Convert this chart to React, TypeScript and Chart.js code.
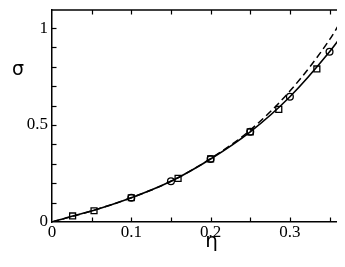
import React, { useEffect, useRef } from "react";
import { Chart, registerables } from "chart.js";

Chart.register(...registerables);

const solidEta = [0, 0.025, 0.05, 0.1, 0.15, 0.2, 0.25, 0.3, 0.35, 0.37];
const solidSigma = [0, 0.03, 0.057, 0.125, 0.21, 0.325, 0.465, 0.646, 0.878, 0.985];

const dashedEta = [0, 0.05, 0.1, 0.15, 0.2, 0.25, 0.3, 0.35, 0.37];
const dashedSigma = [0, 0.057, 0.125, 0.21, 0.327, 0.474, 0.675, 0.94, 1.075];

const circleEta = [0.1, 0.15, 0.2, 0.25, 0.3, 0.35];
const circleSigma = [0.125, 0.21, 0.325, 0.465, 0.646, 0.878];

const squareEta = [0.026, 0.053, 0.1, 0.159, 0.2, 0.25, 0.286, 0.334, 0.366];
const squareSigma = [0.031, 0.058, 0.125, 0.225, 0.325, 0.465, 0.581, 0.789, 0.96];

const xTickLabels = ["0", "0.1", "0.2", "0.3"];
const yTickLabels = ["0", "0.5", "1"];
const xMinorTicks = [0.05, 0.1, 0.15, 0.2, 0.25, 0.3, 0.35];
const yMinorTicks = [0.1, 0.2, 0.3, 0.4, 0.5, 0.6, 0.7, 0.8, 0.9, 1.0];

const zip = (xs: number[], ys: number[]) => xs.map((x, i) => ({ x, y: ys[i] }));

const fmt = (v: number) => {
  const r = Math.round(v * 100) / 100;
  return r === 0 ? "0" : String(r);
};

const framePlugin = {
  id: "frame",
  afterDatasetsDraw(chart: any) {
    const { ctx, chartArea, scales } = chart;
    const x = scales.x;
    const y = scales.y;
    ctx.save();
    ctx.strokeStyle = "#000";
    ctx.lineWidth = 1.5;
    ctx.beginPath();
    ctx.moveTo(chartArea.left, chartArea.top);
    ctx.lineTo(chartArea.right + 2, chartArea.top);
    ctx.stroke();
    ctx.lineWidth = 1.2;
    const tl = 4.5;
    xMinorTicks.forEach((v) => {
      const px = Math.round(x.getPixelForValue(v)) + 0.5;
      ctx.beginPath();
      ctx.moveTo(px, chartArea.bottom);
      ctx.lineTo(px, chartArea.bottom - tl);
      ctx.moveTo(px, chartArea.top);
      ctx.lineTo(px, chartArea.top + tl);
      ctx.stroke();
    });
    yMinorTicks.forEach((v) => {
      const py = Math.round(y.getPixelForValue(v)) + 0.5;
      ctx.beginPath();
      ctx.moveTo(chartArea.left, py);
      ctx.lineTo(chartArea.left + tl, py);
      ctx.stroke();
    });
    ctx.fillStyle = "#000";
    ctx.textAlign = "center";
    ctx.textBaseline = "middle";
    ctx.font = "19px 'DejaVu Sans'";
    ctx.fillText("σ", chartArea.left - 34, chartArea.top + 60);
    ctx.font = "20px 'DejaVu Sans'";
    ctx.fillText("η", x.getPixelForValue(0.2) + 1, chartArea.bottom + 20);
    ctx.restore();
  },
};

export default function App() {
  const ref = useRef<HTMLCanvasElement | null>(null);
  useEffect(() => {
    if (!ref.current) return;
    const tickFont = { family: "'Liberation Serif'", size: 17 };
    const chart = new Chart(ref.current, {
      type: "scatter",
      data: {
        datasets: [
          {
            label: "circles",
            data: zip(circleEta, circleSigma),
            showLine: false,
            clip: false,
            pointStyle: "circle",
            pointRadius: 3.4,
            borderColor: "#000",
            backgroundColor: "rgba(0,0,0,0)",
            borderWidth: 1.3,
          },
          {
            label: "squares",
            data: zip(squareEta, squareSigma),
            showLine: false,
            clip: false,
            pointStyle: "rect",
            pointRadius: 4.2,
            borderColor: "#000",
            backgroundColor: "rgba(0,0,0,0)",
            borderWidth: 1.3,
          },
          {
            label: "solid",
            data: zip(solidEta, solidSigma),
            showLine: true,
            pointRadius: 0,
            borderColor: "#000",
            borderWidth: 1.6,
            cubicInterpolationMode: "monotone",
          },
          {
            label: "dashed",
            data: zip(dashedEta, dashedSigma),
            showLine: true,
            pointRadius: 0,
            borderColor: "#000",
            borderWidth: 1.5,
            borderDash: [7, 4],
            cubicInterpolationMode: "monotone",
          },
        ],
      },
      options: {
        animation: false,
        responsive: true,
        maintainAspectRatio: false,
        layout: { autoPadding: false, padding: { top: 2, right: 0, left: 0, bottom: 0 } },
        plugins: { legend: { display: false }, tooltip: { enabled: false } },
        events: [],
        scales: {
          x: {
            type: "linear",
            position: "bottom",
            min: 0,
            max: 0.3695,
            grid: { display: false, drawTicks: false },
            border: { display: true, color: "#000", width: 1.5 },
            ticks: {
              stepSize: 0.1,
              includeBounds: false,
              autoSkip: false,
              maxRotation: 0,
              padding: 0,
              color: "#000",
              font: tickFont,
              callback: (v: any) => {
                const s = fmt(Number(v));
                return xTickLabels.includes(s) ? s : "";
              },
            },
            afterFit: (s: any) => {
              s.height = 37;
              s.paddingLeft = 0;
              s.paddingRight = 0;
            },
          },
          y: {
            type: "linear",
            min: 0,
            max: 1.093,
            grid: { display: false, drawTicks: false },
            border: { display: true, color: "#000", width: 1.5 },
            ticks: {
              stepSize: 0.5,
              includeBounds: false,
              autoSkip: false,
              padding: 4,
              color: "#000",
              font: tickFont,
              callback: (v: any) => {
                const s = fmt(Number(v));
                return yTickLabels.includes(s) ? s : "";
              },
            },
            afterFit: (s: any) => {
              s.width = 44;
              s.paddingTop = 0;
              s.paddingBottom = 0;
            },
          },
        },
      },
      plugins: [framePlugin],
    });
    return () => chart.destroy();
  }, []);
  return (
    <div style={{ position: "relative", width: 337, height: 251 }}>
      <canvas ref={ref} />
    </div>
  );
}
